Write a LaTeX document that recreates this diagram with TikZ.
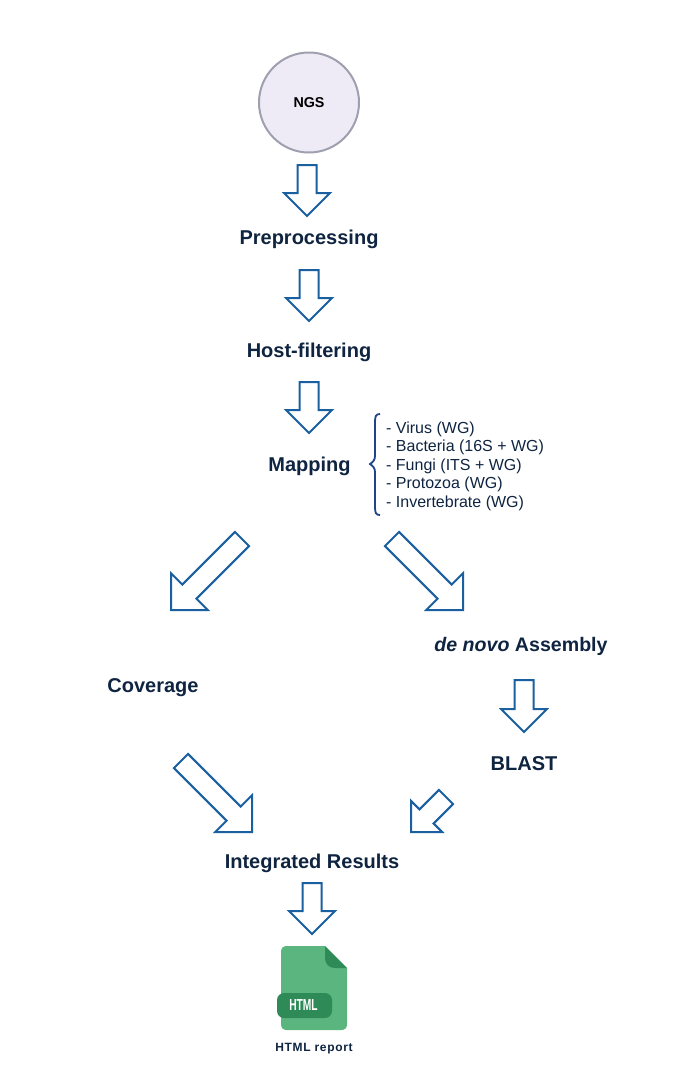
\documentclass[tikz,border=0pt]{standalone}
\usepackage{fontspec}
\setmainfont{Liberation Sans}
\usetikzlibrary{calc}
\definecolor{navy}{HTML}{0F2440}
\definecolor{arrowblue}{HTML}{1A5FA0}
\definecolor{bracecol}{HTML}{1F4488}
\definecolor{filegreen}{HTML}{5BB57F}
\definecolor{darkgreen}{HTML}{2E8B57}
\definecolor{ngsfill}{HTML}{EFEBF6}
\definecolor{ngsline}{HTML}{9E9FAF}
\tikzset{
	blockarrow/.style n args={3}{draw=arrowblue, line width=2pt, fill=white, line join=miter,
		to path={
			($(\tikztostart)!#1!90:(\tikztotarget)$)
			-- ($($(\tikztotarget)!#3!(\tikztostart)$)!#1!90:(\tikztotarget)$)
			-- ($($(\tikztotarget)!#3!(\tikztostart)$)!#2!90:(\tikztotarget)$)
			-- (\tikztotarget)
			-- ($($(\tikztotarget)!#3!(\tikztostart)$)!#2!-90:(\tikztotarget)$)
			-- ($($(\tikztotarget)!#3!(\tikztostart)$)!#1!-90:(\tikztotarget)$)
			-- ($(\tikztostart)!#1!-90:(\tikztotarget)$)
			-- cycle
		}},
	downarrow/.style={blockarrow={9.5pt}{23pt}{23pt}},
	diagarrow/.style={blockarrow={10pt}{26pt}{26pt}},
	stage/.style={font=\bfseries\fontsize{20}{24}\selectfont, text=navy, inner sep=0pt}
}
\begin{document}
\begin{tikzpicture}[x=1pt,y=-1pt]
	\useasboundingbox (0,0) rectangle (686,1082);
	% stages
	\node[circle, draw=ngsline, line width=2pt, fill=ngsfill, minimum size=100pt, inner sep=0pt,
		font=\bfseries\fontsize{14.3}{16}\selectfont] (ngs) at (309,102.5) {NGS};
	\node[stage] (prep) at (309,239) {Preprocessing};
	\node[stage] (host) at (309,352) {Host-filtering};
	\node[stage] (mapping) at (309.5,466) {Mapping};
	\node[stage, font=\bfseries\fontsize{19.6}{24}\selectfont] (assembly) at (521,646) {\textit{de novo} Assembly};
	\node[stage] (coverage) at (153,688) {Coverage};
	\node[stage] (blast) at (524,764) {BLAST};
	\node[stage] (results) at (312,863) {Integrated Results};
	% list of references
	\node[anchor=west, align=left, inner sep=0pt, text=navy, font=\fontsize{16}{18.5}\selectfont] (refs) at (386,466)
		{- Virus (WG)\\- Bacteria (16S + WG)\\- Fungi (ITS + WG)\\- Protozoa (WG)\\- Invertebrate (WG)};
	\draw[bracecol, line width=1.8pt] (380,414) .. controls (376,414) and (375,416) .. (375,422)
		-- (375,456) .. controls (375,460) and (373,462) .. (370,464)
		.. controls (373,466) and (375,468) .. (375,472)
		-- (375,507) .. controls (375,513) and (376,515) .. (380,515);
	% arrows
	\coordinate (a1s) at (307,165);
	\coordinate (a1e) at (307,216);
	\coordinate (a2s) at (309,270);
	\coordinate (a2e) at (309,321);
	\coordinate (a3s) at (309,382);
	\coordinate (a3e) at (309,433);
	\coordinate (a4s) at (242,539);
	\coordinate (a4e) at (171,610);
	\coordinate (a5s) at (392,539);
	\coordinate (a5e) at (463,610);
	\coordinate (a6s) at (524,680);
	\coordinate (a6e) at (524,732);
	\coordinate (a7s) at (181,761);
	\coordinate (a7e) at (252,832);
	\coordinate (a8s) at (446,797);
	\coordinate (a8e) at (411,832);
	\coordinate (a9s) at (312,883);
	\coordinate (a9e) at (312,934);
	\draw[downarrow] (a1s) to (a1e);
	\draw[downarrow] (a2s) to (a2e);
	\draw[downarrow] (a3s) to (a3e);
	\draw[diagarrow] (a4s) to (a4e);
	\draw[diagarrow] (a5s) to (a5e);
	\draw[downarrow] (a6s) to (a6e);
	\draw[diagarrow] (a7s) to (a7e);
	\draw[blockarrow={10pt}{22pt}{22pt}] (a8s) to (a8e);
	\draw[downarrow] (a9s) to (a9e);
	% html icon
	\fill[filegreen] (325,946) -- (287,946) .. controls (283,946) and (281,948) .. (281,952) -- (281,1024)
		.. controls (281,1028) and (283,1030) .. (287,1030) -- (341,1030)
		.. controls (345,1030) and (347,1028) .. (347,1024) -- (347,968) -- cycle;
	\fill[darkgreen] (325,946) -- (347,968) -- (335,968) .. controls (329,968) and (325,964) .. (325,958) -- cycle;
	\fill[darkgreen, rounded corners=7pt] (277,993) rectangle (332,1018);
	\node[xscale=.64, transform shape, text=white, inner sep=0pt, font=\bfseries\fontsize{16}{16}\selectfont] (html) at (303.5,1005) {HTML};
	\node[text=navy, inner sep=0pt, font=\bfseries\fontsize{12}{14}\selectfont\addfontfeature{LetterSpace=5.5}] (report) at (314,1049) {HTML report};
\end{tikzpicture}
\end{document}
